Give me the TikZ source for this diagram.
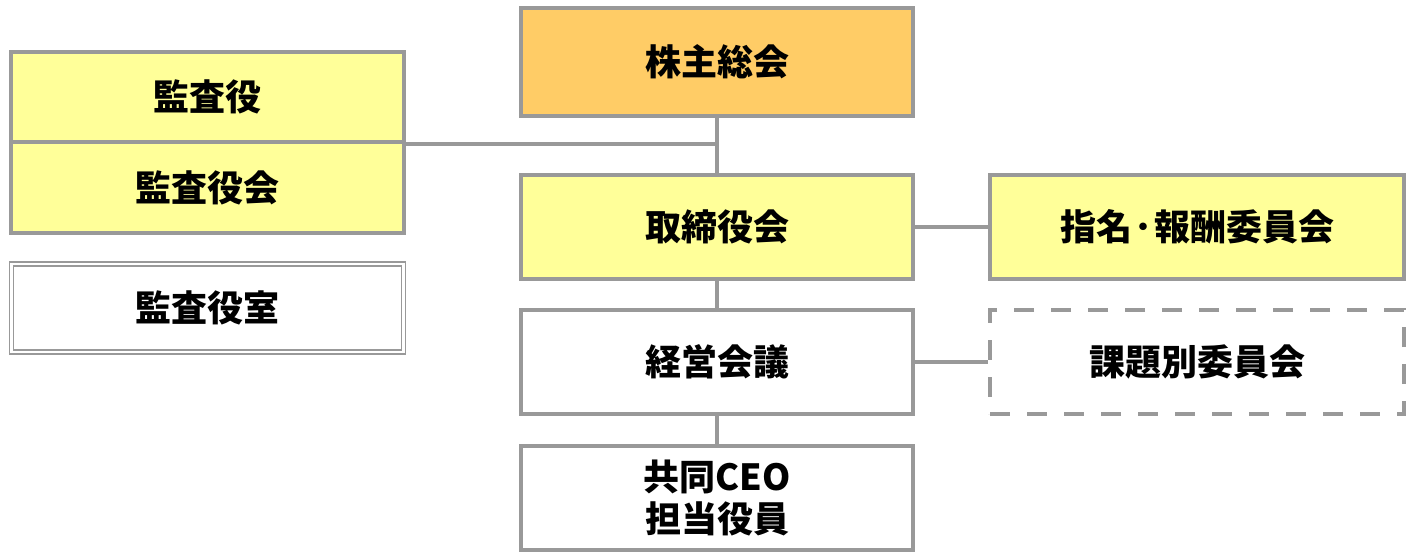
\documentclass[tikz,border=0pt]{standalone}
\usepackage{fontspec}
\newfontfamily\jpfont{Noto Sans CJK JP}
\definecolor{linegray}{HTML}{999999}
\definecolor{orangebox}{HTML}{FFCC66}
\definecolor{yellowbox}{HTML}{FFFF99}
\tikzset{
  orgbox/.style={draw=linegray, line width=2pt, fill=white, minimum width=196pt, minimum height=52pt, inner sep=0pt, align=center, font=\jpfont\bfseries\fontsize{18}{21}\selectfont},
  sidebox/.style={orgbox, minimum width=207pt},
  link/.style={draw=linegray, line width=2pt},
}
\begin{document}
\begin{tikzpicture}[x=0.5pt,y=-0.5pt]
\useasboundingbox (0,0) rectangle (1406,552);
\node[orgbox, fill=orangebox, minimum height=54pt] (soukai) at (717,62) {株主総会};
\node[orgbox, fill=yellowbox] (torishimari) at (717,227) {取締役会};
\node[orgbox] (keiei) at (717,362) {経営会議};
\node[orgbox] (ceo) at (717,498) {共同CEO\\担当役員};
\node[orgbox, fill=yellowbox, minimum width=196.5pt, minimum height=45pt] (kansayaku) at (207.5,97) {監査役};
\node[orgbox, fill=yellowbox, minimum width=196.5pt, minimum height=45.5pt] (kansayakukai) at (207.5,187.5) {監査役会};
\node[orgbox, line width=0.7pt, double=white, double distance=1.4pt, minimum width=196pt, minimum height=44pt] (kansashitsu) at (207.5,308) {監査役室};
\node[sidebox, fill=yellowbox] (shimei) at (1197,227) {指名\kern1pt･\kern1pt報酬委員会};
\node[sidebox, dash pattern=on 10pt off 8.5pt] (kadai) at (1197,362) {課題別委員会};
\draw[link] (soukai.south) -- (torishimari.north);
\draw[link] (kansayaku.south east) -- (kansayaku.south east -| soukai.south);
\draw[link] (torishimari.east) -- (shimei.west);
\draw[link] (torishimari.south) -- (keiei.north);
\draw[link] (keiei.east) -- (kadai.west);
\draw[link] (keiei.south) -- (ceo.north);
\end{tikzpicture}
\end{document}
